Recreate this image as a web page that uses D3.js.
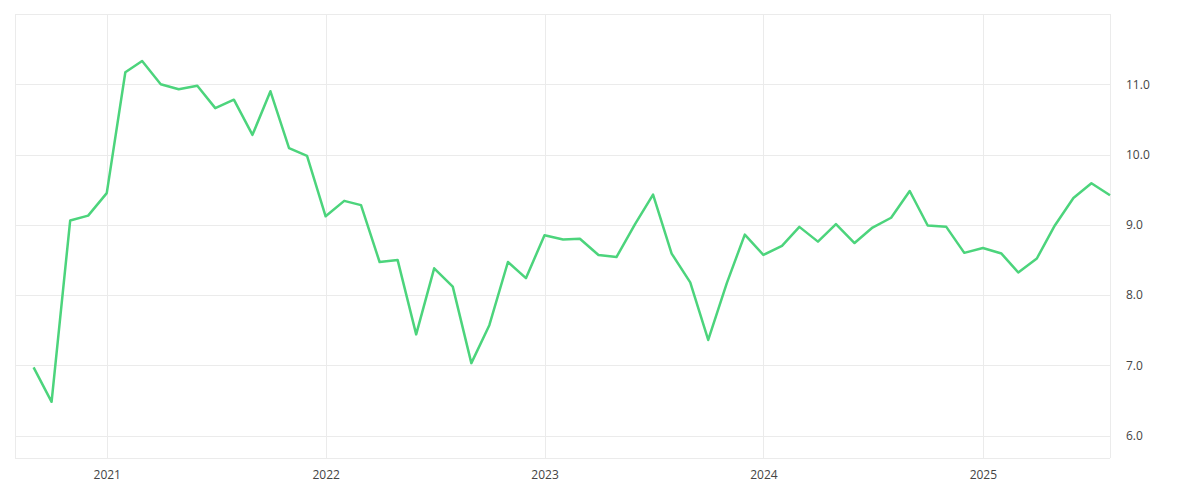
<!DOCTYPE html>
<html>
<head>
<meta charset="utf-8">
<script src="https://cdn.jsdelivr.net/npm/d3@7"></script>
<style>
  body { margin: 0; background: #fff; }
  text { font-family: "Open Sans", sans-serif; }
</style>
</head>
<body>
<svg width="1200" height="500"></svg>
<script>
// Monthly values, Sep 2020 .. Aug 2025
const startMonth = new Date(2020, 8, 1);
const values = [
  6.97, 6.48, 9.06, 9.13,
  9.45, 11.17, 11.33, 11.0, 10.93, 10.98, 10.66, 10.78, 10.28, 10.9, 10.09, 9.98,
  9.12, 9.34, 9.28, 8.47, 8.5, 7.44, 8.38, 8.12, 7.03, 7.57, 8.47, 8.24,
  8.85, 8.79, 8.8, 8.57, 8.54, 9.01, 9.43, 8.59, 8.18, 7.36, 8.17, 8.86,
  8.57, 8.7, 8.97, 8.76, 9.01, 8.74, 8.96, 9.1, 9.48, 8.99, 8.97, 8.6,
  8.67, 8.59, 8.32, 8.52, 8.99, 9.38, 9.59, 9.42
];
const yTicks = [6, 7, 8, 9, 10, 11];
const xTickYears = [2021, 2022, 2023, 2024, 2025];

const data = values.map((v, i) => ({
  date: new Date(startMonth.getFullYear(), startMonth.getMonth() + i, 1),
  value: v
}));

const svg = d3.select("svg"),
  margin = { top: 14, right: 90, bottom: 42, left: 15 },
  width = +svg.attr("width"),
  height = +svg.attr("height");

const x = d3.scaleTime()
  .domain([new Date(2020, 7, 1), new Date(2025, 7, 1)])
  .range([margin.left, width - margin.right]);
const y = d3.scaleLinear()
  .domain([5.68, 12])
  .range([height - margin.bottom, margin.top]);

// gridlines
const grid = svg.append("g").attr("stroke", "#ebebeb").attr("stroke-width", 1);
grid.selectAll(".hy").data(yTicks.concat([12])).join("line")
  .attr("x1", margin.left).attr("x2", width - margin.right)
  .attr("y1", d => Math.round(y(d)) + 0.5).attr("y2", d => Math.round(y(d)) + 0.5);
grid.selectAll(".vx").data(xTickYears).join("line")
  .attr("x1", d => Math.round(x(new Date(d, 0, 1))) + 0.5)
  .attr("x2", d => Math.round(x(new Date(d, 0, 1))) + 0.5)
  .attr("y1", margin.top).attr("y2", height - margin.bottom);
grid.append("line")
  .attr("x1", margin.left + 0.5).attr("x2", margin.left + 0.5)
  .attr("y1", margin.top).attr("y2", height - margin.bottom);
grid.append("line")
  .attr("x1", width - margin.right + 0.5).attr("x2", width - margin.right + 0.5)
  .attr("y1", margin.top).attr("y2", height - margin.bottom);
grid.append("line")
  .attr("x1", margin.left).attr("x2", width - margin.right)
  .attr("y1", height - margin.bottom + 0.5).attr("y2", height - margin.bottom + 0.5);

// axes
const xAxis = svg.append("g")
  .attr("transform", `translate(0,${height - margin.bottom})`)
  .call(d3.axisBottom(x).tickValues(xTickYears.map(d => new Date(d, 0, 1)))
    .tickFormat(d3.timeFormat("%Y")).tickSize(0).tickPadding(12));
const yAxis = svg.append("g")
  .attr("transform", `translate(${width - margin.right},0)`)
  .call(d3.axisRight(y).tickValues(yTicks).tickSize(0).tickPadding(16));
[xAxis, yAxis].forEach(g => {
  g.select(".domain").remove();
  g.selectAll("text").attr("fill", "#444").attr("font-size", 12);
});

// line
svg.append("path")
  .datum(data)
  .attr("fill", "none")
  .attr("stroke", "#4cd47c")
  .attr("stroke-width", 2.5)
  .attr("stroke-linejoin", "round")
  .attr("d", d3.line().x(d => x(d.date)).y(d => y(d.value)));
</script>
</body>
</html>
